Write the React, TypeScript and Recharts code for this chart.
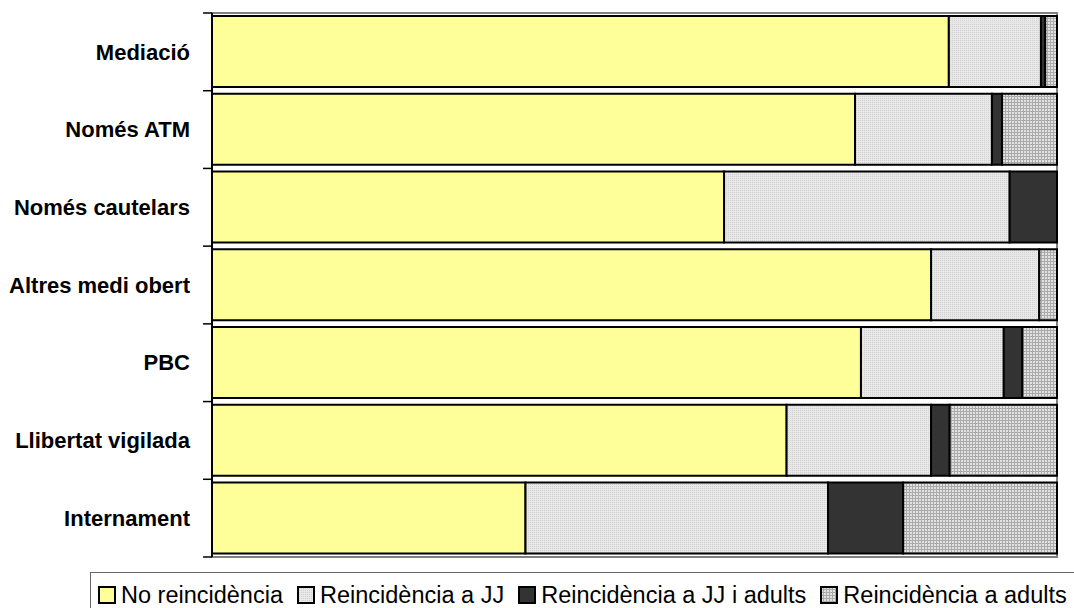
import { BarChart, Bar, XAxis, YAxis, ReferenceArea } from "recharts";

const categories = [
  "Mediació",
  "Només ATM",
  "Només cautelars",
  "Altres medi obert",
  "PBC",
  "Llibertat vigilada",
  "Internament",
];
const noReincidencia = [87.2, 76.1, 60.6, 85.1, 76.8, 68.0, 37.1];
const reincidenciaJJ = [10.9, 16.2, 33.8, 12.8, 16.9, 17.1, 35.8];
const reincidenciaJJAdults = [0.5, 1.2, 5.6, 0, 2.2, 2.2, 8.9];
const reincidenciaAdults = [1.4, 6.5, 0, 2.1, 4.1, 12.7, 18.2];

const seriesLabels = [
  "No reincidència",
  "Reincidència a JJ",
  "Reincidència a JJ i adults",
  "Reincidència a adults",
];

const data = categories.map((name, i) => ({
  name,
  no: noReincidencia[i],
  jj: reincidenciaJJ[i],
  jjAdults: reincidenciaJJAdults[i],
  adults: reincidenciaAdults[i],
}));

const series = [
  { key: "no", fill: "#FFFF99" },
  { key: "jj", fill: "url(#patJJ)" },
  { key: "jjAdults", fill: "#333333" },
  { key: "adults", fill: "url(#patAdults)" },
];

const PLOT_TOP = 13;
const PLOT_BOTTOM = 557;
const AXIS_X = 212;
const BAND = (PLOT_BOTTOM - PLOT_TOP) / categories.length;

function CategoryTick(props: any) {
  const { y, payload, index } = props;
  const half = BAND / 2;
  return (
    <g>
      <line x1={AXIS_X - 9} x2={AXIS_X} y1={y - half} y2={y - half} stroke="#000" strokeWidth={1.5} />
      {index === categories.length - 1 && (
        <line x1={AXIS_X - 9} x2={AXIS_X} y1={y + half} y2={y + half} stroke="#000" strokeWidth={1.5} />
      )}
      <text
        x={190}
        y={y}
        dy="0.35em"
        textAnchor="end"
        fontSize={22}
        fontWeight="bold"
        fill="#000"
        fontFamily="'Liberation Sans', Arial, sans-serif"
      >
        {payload.value}
      </text>
    </g>
  );
}

function Swatch({ fill }: { fill: string }) {
  return (
    <svg width={18} height={18} style={{ display: "block" }}>
      <rect x={1} y={1} width={16} height={16} fill={fill} stroke="#000" strokeWidth={2} />
    </svg>
  );
}

export default function App() {
  return (
    <div
      style={{
        position: "absolute",
        left: 0,
        top: 0,
        width: 1074,
        height: 608,
        background: "#fff",
        overflow: "hidden",
        fontFamily: "'Liberation Sans', Arial, sans-serif",
      }}
    >
      <svg width={0} height={0} style={{ position: "absolute" }}>
        <defs>
          <pattern id="patJJ" width={2} height={2} patternUnits="userSpaceOnUse">
            <rect width={2} height={2} fill="#e8e8e8" />
            <rect width={1} height={1} fill="#d2d2d2" />
          </pattern>
          <pattern id="patAdults" width={3} height={3} patternUnits="userSpaceOnUse">
            <rect width={3} height={3} fill="#e2e2e2" />
            <rect width={3} height={1} fill="#aaaaaa" />
            <rect width={1} height={3} fill="#aaaaaa" />
          </pattern>
        </defs>
      </svg>
      <BarChart
        width={1074}
        height={608}
        data={data}
        layout="vertical"
        margin={{ top: PLOT_TOP, right: 17, bottom: 608 - PLOT_BOTTOM, left: 0 }}
        barCategoryGap="4%"
      >
        <XAxis type="number" domain={[0, 100]} hide />
        <ReferenceArea x1={0} x2={100} fill="none" stroke="#808080" strokeWidth={2} ifOverflow="visible" />
        {series.map((s) => (
          <Bar
            key={s.key}
            dataKey={s.key}
            stackId="a"
            fill={s.fill}
            stroke="#000"
            strokeWidth={2}
            isAnimationActive={false}
          />
        ))}
        <YAxis
          type="category"
          dataKey="name"
          width={AXIS_X}
          axisLine={{ stroke: "#000", strokeWidth: 2 }}
          tickLine={false}
          tick={<CategoryTick />}
          interval={0}
        />
      </BarChart>
      <div
        style={{
          position: "absolute",
          left: 90,
          top: 572,
          width: 1000,
          height: 50,
          border: "1px solid #666",
          boxSizing: "border-box",
          display: "flex",
          alignItems: "flex-start",
          paddingLeft: 7,
          paddingTop: 12,
          fontSize: 23.5,
          color: "#000",
        }}
      >
        {seriesLabels.map((label, i) => (
          <div key={label} style={{ display: "flex", alignItems: "center", marginRight: 14 }}>
            <Swatch fill={series[i].fill} />
            <span style={{ marginLeft: 5, lineHeight: "20px" }}>{label}</span>
          </div>
        ))}
      </div>
    </div>
  );
}
